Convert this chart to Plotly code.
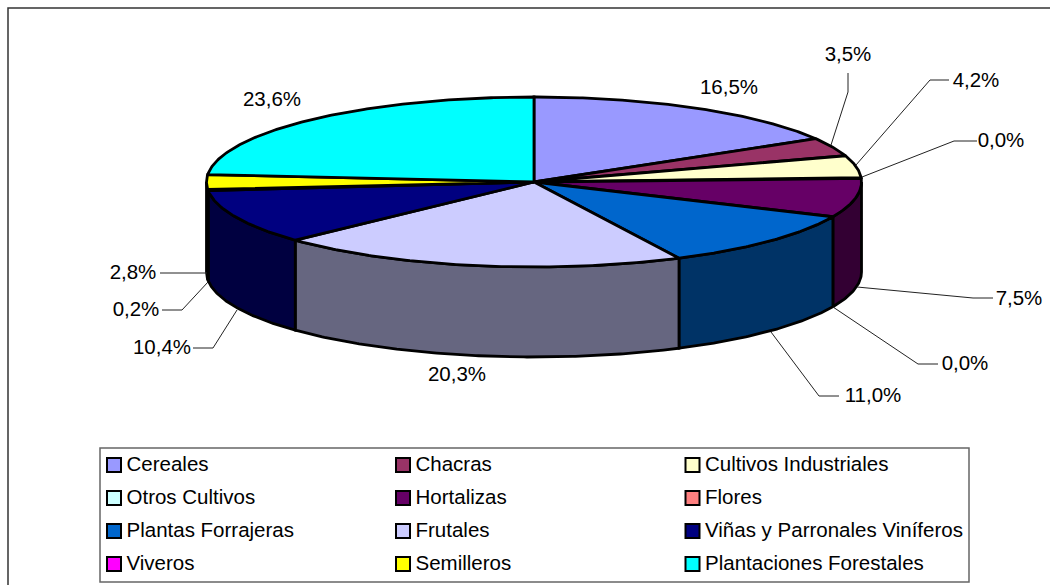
import math
import plotly.graph_objects as go

# ---- data ----
categories = ["Cereales", "Chacras", "Cultivos Industriales", "Otros Cultivos",
              "Hortalizas", "Flores", "Plantas Forrajeras", "Frutales",
              "Viñas y Parronales Viníferos", "Viveros", "Semilleros",
              "Plantaciones Forestales"]
values = [16.5, 3.5, 4.2, 0.0, 7.5, 0.0, 11.0, 20.3, 10.4, 0.2, 2.8, 23.6]
colors = ["#9999FF", "#993366", "#FFFFCC", "#CCFFFF", "#660066", "#FF8080",
          "#0066CC", "#CCCCFF", "#000080", "#FF00FF", "#FFFF00", "#00FFFF"]
side_colors = ["#4D4D80", "#4D1A33", "#808066", "#668080", "#330033", "#804040",
               "#003366", "#666680", "#000040", "#800080", "#808000", "#008080"]

# ---- layout constants ----
W, H = 1050, 585
CX, CY, RX, RY, DEPTH = 534, 182, 327.5, 85, 90
FONT = "Liberation Sans, Arial, sans-serif"
FS = 20.5
OUT = 2.8

label_pos = [(729, 89), (848, 56), (976, 82), (1001, 142), (1019, 300), (965, 365),
             (873, 397), (457, 376), (162, 349), (136, 311), (133, 274), (272, 101)]
leaders = {
    1: [(848, 73), (848, 92), (831, 145)],
    2: [(949, 80), (930, 80), (856, 165)],
    3: [(977, 141), (954, 141), (862, 177)],
    4: [(993, 298), (973, 298), (857, 287)],
    5: [(938, 364), (918, 364), (833, 307)],
    6: [(839, 396), (819, 396), (771, 332)],
    8: [(193, 348), (213, 348), (237, 310)],
    9: [(162, 310), (182, 310), (208, 282)],
    10: [(160, 273), (207, 273)],
}
legend_cols = [114, 403, 692.5]
legend_rows = [465, 498, 531, 564]
LEGEND_TEXT_DX, LEGEND_TEXT_DY = 12.5, 1


def pt(deg, dy=0):
    a = math.radians(deg)
    return CX + RX * math.sin(a), CY - RY * math.cos(a) + dy


def arc(a0, a1, dy=0):
    n = max(2, int(abs(a1 - a0) * 2) + 1)
    return [pt(a0 + (a1 - a0) * i / (n - 1), dy) for i in range(n)]


fig = go.Figure()
line = dict(color="black", width=OUT)

# cumulative angles, clockwise from 12 o'clock
edges = [0.0]
for v in values:
    edges.append(edges[-1] + v * 3.6)
edges[-1] = 360.0

# side walls (only the front half of the disc shows a wall)
for i, name in enumerate(categories):
    a0, a1 = max(edges[i], 90), min(edges[i + 1], 270)
    if a1 <= a0:
        continue
    top, bottom = arc(a0, a1), arc(a1, a0, DEPTH)
    pts = top + bottom + [top[0]]
    fig.add_trace(go.Scatter(x=[p[0] for p in pts], y=[p[1] for p in pts], mode="lines",
                             fill="toself", fillcolor=side_colors[i], line=line,
                             hoverinfo="skip", showlegend=False))

# top faces
for i, name in enumerate(categories):
    if values[i] == 0:
        continue
    pts = [(CX, CY)] + arc(edges[i], edges[i + 1]) + [(CX, CY)]
    fig.add_trace(go.Scatter(x=[p[0] for p in pts], y=[p[1] for p in pts], mode="lines",
                             name=name, fill="toself", fillcolor=colors[i], line=line,
                             hoveron="fills", text=f"{name}: {values[i]:.1f}%".replace(".", ","),
                             hoverinfo="text", showlegend=False))

# leader lines
for i, path in leaders.items():
    fig.add_trace(go.Scatter(x=[p[0] for p in path], y=[p[1] for p in path], mode="lines",
                             line=dict(color="#222222", width=1), hoverinfo="skip", showlegend=False))

# value labels
fig.add_trace(go.Scatter(x=[p[0] for p in label_pos], y=[p[1] for p in label_pos], mode="text",
                         text=[f"{v:.1f}%".replace(".", ",") for v in values],
                         textposition="middle center", textfont=dict(family=FONT, size=FS, color="black"),
                         hoverinfo="skip", showlegend=False))

# legend, in rows of three
for i, name in enumerate(categories):
    col, row = i % 3, i // 3
    fig.add_trace(go.Scatter(x=[legend_cols[col]], y=[legend_rows[row]], mode="markers",
                             marker=dict(symbol="square", size=14, color=colors[i],
                                         line=dict(color="black", width=2)),
                             hoverinfo="skip", showlegend=False))
    fig.add_trace(go.Scatter(x=[legend_cols[col] + LEGEND_TEXT_DX], y=[legend_rows[row] + LEGEND_TEXT_DY],
                             mode="text", text=[name], textposition="middle right",
                             textfont=dict(family=FONT, size=FS, color="black"),
                             hoverinfo="skip", showlegend=False))

fig.update_layout(
    width=W, height=H, margin=dict(l=0, r=0, t=0, b=0),
    paper_bgcolor="white", plot_bgcolor="white",
    xaxis=dict(range=[0, W], visible=False, fixedrange=True),
    yaxis=dict(range=[H, 0], visible=False, fixedrange=True),
    shapes=[
        dict(type="rect", x0=8, y0=8, x1=W + 5, y1=H + 5, line=dict(color="#333333", width=1.5), layer="below"),
        dict(type="rect", x0=100, y0=448, x1=969, y1=582, line=dict(color="#666666", width=1.5),
             fillcolor="white", layer="below"),
    ],
)
fig.write_html("out.html", config={"displayModeBar": False},
               post_script="document.body.style.margin='0';document.body.style.overflow='hidden';")
